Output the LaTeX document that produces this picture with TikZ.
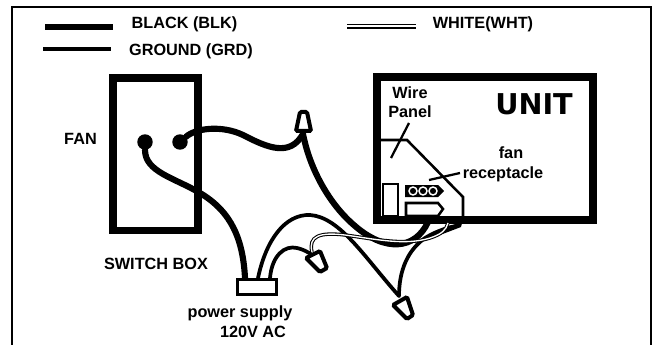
\documentclass[tikz,border=0pt]{standalone}
\usepackage{fontspec}
\setmainfont{Liberation Sans}
\newfontfamily\unitfont{DejaVu Sans}
\usetikzlibrary{positioning}
\begin{document}
\begin{tikzpicture} [x=0.75pt, y=-0.75pt,
            lbl/.style={font=\fontsize{12.2}{14.25}\selectfont\bfseries, align=center, inner sep=0pt},
            blk/.style={line width=4.6pt, line cap=round},
            grd/.style={line width=2.8pt, line cap=round},
            wht/.style={draw=black, line width=0.8pt, double=white, double distance=1pt},
            nut/.style={line width=3pt, rounded corners=1pt, fill=white},
            thin/.style={line width=1.7pt},
            term/.style={circle, fill=black, inner sep=0pt, minimum size=11.6pt},]
        \useasboundingbox (0,0) rectangle (655,345);
        % frame, open at the bottom
        \draw[line width=2.2pt] (12,345) -- (12,7) -- (651,7) -- (651,345);
        % key
        \coordinate (k1) at (45,27); \coordinate (k2) at (113,27);
        \coordinate (k3) at (43,49); \coordinate (k4) at (111,49);
        \coordinate (k5) at (347,24); \coordinate (k6) at (416,24);
        \coordinate (k7) at (347,28); \coordinate (k8) at (416,28);
        \draw[line width=5pt] (k1) -- (k2);
        \draw[line width=3.2pt] (k3) -- (k4);
        \draw[line width=0.6pt] (k5) -- (k6);
        \draw[line width=2pt] (k7) -- (k8);
        \node[lbl](blacktxt) at (184.5,24){BLACK (BLK)};
        \node[lbl](groundtxt) at (191,51){GROUND (GRD)};
        \node[lbl](whitetxt) at (483,24){WHITE(WHT)};
        % switch box
        \draw[line width=5.6pt] (113,78) rectangle (198,230.5);
        \node[lbl](fantxt) at (80.5,139){FAN};
        \node[lbl](switchtxt) at (156,264){SWITCH BOX};
        \node[term](t1) at (145,142){};
        \node[term](t2) at (180,142){};
        % power supply
        \node[lbl](powertxt) at (240,313){power supply};
        \node[lbl](actxt) at (253,332){120V AC};
        % unit
        \draw[line width=5.6pt] (377,77) rectangle (593,220);
        \node[font=\unitfont\fontsize{21.5}{24}\selectfont\bfseries, inner sep=0pt](unittxt) at (534,104){UNIT};
        \node[lbl](paneltxt) at (410,102.5){Wire\\Panel};
        \node[lbl](fanrtxt) at (511,153){fan};
        \node[lbl](recepttxt) at (503,174){receptacle};
        \draw[line width=1.9pt] (381,140) -- (407,140) -- (463,197) -- (463,216);
        \draw[thin] (409,123) -- (391,158);
        \draw[thin] (429,180) -- (460,173);
        \draw[line width=1.5pt] (383,184) rectangle (398,216);
        \draw[line width=1.9pt] (406,203) -- (438,203) -- (443,209) -- (438,216) -- (406,216) -- cycle;
        \fill (405,185) -- (438,185) -- (444,191) -- (438,197) -- (405,197) -- cycle;
        \foreach \cx in {413,423,433}
            \draw[white, line width=1.1pt] (\cx,191) circle (4);
        % wires
        \coordinate (c1) at (245,278); \coordinate (c2) at (258,278); \coordinate (c3) at (270,278);
        \coordinate (n1) at (303,134); \coordinate (n2) at (317,258); \coordinate (n3) at (399,296);
        \coordinate (g1) at (460,225); \coordinate (w1) at (448,223); \coordinate (u1) at (428,222);
        \draw[blk] (t1) .. controls (145,172) and (175,178) .. (200,193)
            .. controls (232,212) and (243,240) .. (c1);
        \draw[blk] (t2) .. controls (196,128) and (222,125) .. (243,135)
            .. controls (268,148) and (290,157) .. (n1);
        \draw[blk] (n1) .. controls (310,170) and (330,205) .. (355,226)
            .. controls (385,252) and (415,250) .. (u1);
        \draw[grd] (c2) .. controls (266,240) and (285,214) .. (310,215)
            .. controls (340,217) and (365,258) .. (n3);
        \draw[grd] (n3) .. controls (399,270) and (408,250) .. (425,238)
            .. controls (438,230) and (450,227) .. (g1);
        \fill (425,238) -- (445,227) -- (461,223) -- (461,227) -- (440,235) -- cycle;
        \draw[grd] (c3) .. controls (272,255) and (285,245) .. (297,248)
            .. controls (306,250) and (312,255) .. (n2);
        \draw[wht] (312,252) .. controls (308,236) and (320,232) .. (345,235)
            .. controls (375,239) and (405,246) .. (430,238)
            .. controls (442,234) and (446,230) .. (w1);
        % wire nuts
        \draw[nut] (300,112) -- (307,112) -- (311,131) -- (296,131) -- cycle;
        \draw[nut] (306,258) -- (320,251) -- (327,268) -- (320,272) -- cycle;
        \draw[nut] (393,305) -- (407,297) -- (413,315) -- (407,319) -- cycle;
        \node[draw, line width=2.2pt, fill=white, minimum width=29pt, minimum height=11.6pt, inner sep=0pt](psu) at (257,287){};
    \end{tikzpicture}
\end{document}
